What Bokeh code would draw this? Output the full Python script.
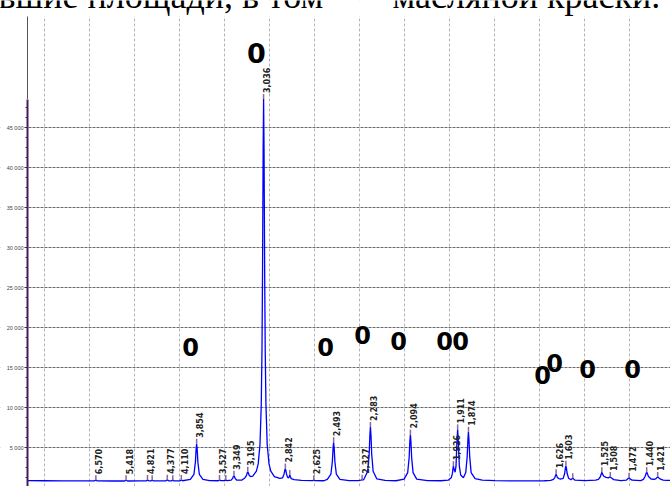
from math import asin, degrees, pi

from bokeh.core.properties import value
from bokeh.embed import file_html
from bokeh.models import FixedTicker, Grid, LinearAxis, Range1d
from bokeh.plotting import figure
from bokeh.resources import INLINE

# ---------------- data ----------------
WAVELENGTH = 1.7902  # Co K-alpha, Angstrom

# labelled reflections: d-spacing (A) and height of the curve at the peak (counts)
d_labels = [6.570, 5.418, 4.821, 4.377, 4.110, 3.854, 3.527, 3.349, 3.195, 3.036,
            2.842, 2.625, 2.493, 2.327, 2.283, 2.094, 1.926, 1.911, 1.874, 1.626,
            1.603, 1.525, 1.508, 1.472, 1.440, 1.421]
label_tops = [950, 950, 980, 1000, 980, 5500, 980, 1500, 2000, 48600,
              2400, 950, 5700, 1000, 7600, 6650, 2700, 7300, 7000, 1700,
              2750, 1950, 1350, 1250, 1950, 1350]

# unlabelled peak marks (2theta, counts)
mark_2theta = [21.92, 24.21, 30.10, 37.21, 68.65]
mark_tops = [950, 950, 960, 1600, 1200]

# measured pattern (2theta, counts)
curve_points = [
    (8.07, 900), (10.0, 880), (12.0, 870), (14.0, 860), (15.50, 860), (15.66, 950),
    (15.82, 860), (17.5, 850), (18.86, 850), (19.02, 950), (19.18, 850), (20.5, 860),
    (21.26, 860), (21.40, 980), (21.54, 870), (21.78, 860), (21.92, 950), (22.06, 860),
    (23.0, 860), (23.46, 870), (23.60, 1000), (23.74, 880), (24.07, 870), (24.21, 950),
    (24.35, 870), (25.02, 870), (25.16, 980), (25.30, 880), (26.16, 1040), (26.56, 1690),
    (26.72, 3175), (26.80, 4800), (26.86, 5500), (26.92, 4800), (27.00, 3175), (27.16, 1690),
    (27.56, 1040), (28.3, 900), (29.26, 880), (29.40, 980), (29.54, 890), (29.96, 890),
    (30.10, 960), (30.24, 900), (30.70, 967), (30.86, 1175), (30.94, 1400), (31.00, 1500),
    (31.06, 1400), (31.14, 1175), (31.30, 970), (31.9, 960), (32.24, 1270), (32.40, 1555),
    (32.48, 1866), (32.54, 2000), (32.60, 1880), (32.68, 1600), (32.84, 1390), (33.10, 1470),
    (33.50, 2080), (33.70, 2990), (33.90, 5410), (34.04, 10400), (34.12, 17220), (34.18, 26630),
    (34.22, 35480), (34.25, 42440), (34.30, 48600), (34.35, 42440), (34.38, 35480), (34.42, 26630),
    (34.48, 17220), (34.56, 10400), (34.70, 5410), (34.90, 2990), (35.10, 2080), (35.50, 1400),
    (36.10, 1170), (36.41, 1244), (36.57, 1695), (36.65, 2190), (36.71, 2400), (36.77, 2190),
    (36.85, 1695), (36.97, 1300), (37.10, 1250), (37.16, 1450), (37.21, 1600), (37.27, 1420),
    (37.36, 1150), (37.70, 1020), (38.5, 930), (39.74, 890), (39.88, 950), (40.02, 890),
    (41.0, 880), (41.38, 1044), (41.78, 1723), (41.94, 3275), (42.02, 4973), (42.08, 5700),
    (42.14, 4973), (42.22, 3275), (42.38, 1723), (42.78, 1044), (43.8, 890), (44.8, 900),
    (45.10, 950), (45.24, 1000), (45.36, 980), (45.47, 1120), (45.87, 2065), (46.03, 4225),
    (46.11, 6588), (46.17, 7600), (46.23, 6588), (46.31, 4225), (46.47, 2065), (46.87, 1120),
    (47.8, 930), (49.0, 880), (49.91, 1082), (50.31, 1894), (50.47, 3750), (50.55, 5780),
    (50.61, 6650), (50.67, 5780), (50.75, 3750), (50.91, 1894), (51.31, 1082), (52.5, 900),
    (54.0, 880), (54.8, 950), (55.15, 1250), (55.28, 1800), (55.34, 2400), (55.39, 2700),
    (55.46, 2350), (55.58, 1950), (55.68, 2700), (55.77, 5400), (55.86, 7300), (55.95, 5400),
    (56.05, 2700), (56.20, 1600), (56.50, 1250), (56.76, 1900), (56.92, 3900), (57.00, 6000),
    (57.06, 7000), (57.12, 6000), (57.20, 3900), (57.36, 1900), (57.80, 1150), (58.6, 950),
    (60.0, 890), (62.0, 870), (64.0, 860), (65.5, 880), (66.2, 930), (66.50, 1050),
    (66.66, 1280), (66.74, 1550), (66.80, 1700), (66.86, 1550), (66.94, 1300), (67.10, 1150),
    (67.35, 1100), (67.59, 1180), (67.75, 1780), (67.83, 2420), (67.89, 2750), (67.95, 2420),
    (68.03, 1780), (68.19, 1200), (68.45, 1000), (68.58, 1150), (68.65, 1200), (68.72, 1120),
    (68.90, 950), (70.0, 890), (71.2, 950), (71.50, 1050), (71.70, 1350), (71.80, 1650),
    (71.88, 1950), (71.96, 1700), (72.10, 1450), (72.35, 1300), (72.60, 1250), (72.75, 1330),
    (72.83, 1350), (72.95, 1220), (73.2, 1020), (74.0, 900), (74.60, 950), (74.80, 1150),
    (74.91, 1250), (75.02, 1120), (75.25, 950), (76.2, 900), (76.50, 1050), (76.70, 1450),
    (76.80, 1800), (76.87, 1950), (76.94, 1800), (77.06, 1400), (77.35, 1100), (77.70, 1050),
    (77.90, 1150), (78.00, 1280), (78.09, 1350), (78.20, 1250), (78.40, 1080), (78.70, 960),
    (79.10, 930), (79.51, 920),
]

# hand-drawn phase marks "0" (2theta, counts)
big_mark_2theta = [33.51]
big_mark_counts = [54290]
mark0_2theta = [26.18, 41.18, 45.29, 49.29, 54.40, 56.18, 65.29, 66.62, 70.29, 75.29]
mark0_counts = [17660, 17660, 19160, 18410, 18410, 18410, 14040, 15540, 14790, 14790]

# axis ticks
ytick_values = [5000, 10000, 15000, 20000, 25000, 30000, 35000, 40000, 45000]
ytick_labels = ["5 000", "10 000", "15 000", "20 000", "25 000", "30 000", "35 000", "40 000", "45 000"]
yminor_values = [1250 * i for i in range(1, 39)]
xgrid_values = [10, 15, 20, 25, 30, 35, 40, 45, 50, 55, 60, 65, 70, 75]

# surrounding document text (cut off at the top of the scan)
doc_text_left = "вшие площади, в том"
doc_text_right = "масляной краски."

# ---------------- derived ----------------
curve_2theta = [pt[0] for pt in curve_points]
curve_counts = [pt[1] for pt in curve_points]
label_2theta = [2 * degrees(asin(WAVELENGTH / (2 * d))) for d in d_labels]
label_text = [f"{d:.3f}".replace(".", ",") for d in d_labels]

# ---------------- view ----------------
X_START, X_END = 5.0667, 79.511
Y_START, Y_END = 162.5, 60912.5
AXIS_X = 8.067
GRID_TOP = 58912.5
TEXT_Y = 60537.5
AXIS_TOP = max(curve_counts)

p = figure(width=670, height=486, output_backend="svg", toolbar_location=None,
           x_range=Range1d(X_START, X_END), y_range=Range1d(Y_START, Y_END),
           x_axis_location=None, y_axis_location=None,
           min_border_left=0, min_border_right=0, min_border_top=0, min_border_bottom=0)
p.outline_line_color = None
p.background_fill_color = "white"
p.border_fill_color = "white"

p.center = [c for c in p.center if not isinstance(c, Grid)]
xg = Grid(dimension=0, ticker=FixedTicker(ticks=xgrid_values),
          grid_line_color="#b4b4b4", grid_line_dash="3 2", grid_line_width=1)
yg = Grid(dimension=1, ticker=FixedTicker(ticks=ytick_values),
          grid_line_color="#6a6a6a", grid_line_dash="3 1", grid_line_width=1.2)
p.add_layout(xg, "center")
p.add_layout(yg, "center")

yaxis = LinearAxis(fixed_location=AXIS_X,
                   ticker=FixedTicker(ticks=ytick_values, minor_ticks=yminor_values),
                   bounds=(Y_START, AXIS_TOP))
yaxis.major_label_overrides = {v: lab for v, lab in zip(ytick_values, ytick_labels)}
yaxis.axis_line_color = "#4a1a5e"
yaxis.axis_line_width = 2
yaxis.major_tick_in = 0
yaxis.major_tick_out = 3
yaxis.minor_tick_in = 0
yaxis.minor_tick_out = 2
yaxis.major_tick_line_color = "#333333"
yaxis.minor_tick_line_color = "#333333"
yaxis.major_label_text_font = "Liberation Sans"
yaxis.major_label_text_font_size = "5.5px"
yaxis.major_label_text_color = "#444444"
yaxis.major_label_standoff = 1
p.add_layout(yaxis, "left")

# white masks: left of the axis and the strip above the grid
p.quad(left=[X_START, X_START], right=[AXIS_X, X_END], bottom=[Y_START, GRID_TOP],
       top=[Y_END, Y_END], fill_color="white", line_color=None)
p.segment(x0=[AXIS_X], y0=[AXIS_TOP], x1=[AXIS_X], y1=[GRID_TOP],
          line_color="#555555", line_width=1)

# pattern
p.line(curve_2theta, curve_counts, line_color="#0000ff", line_width=1.3)

# peak marks
p.ray(x=label_2theta + mark_2theta, y=label_tops + mark_tops, length=5, length_units="screen",
      angle=pi / 2, line_color="#8a6a9a", line_width=1.5)
p.text(x=label_2theta, y=label_tops, text=label_text, angle=pi / 2,
       x_offset=3, y_offset=-6, text_align="left", text_baseline="alphabetic",
       text_font=value("DejaVu Sans"), text_font_style="bold", text_font_size="8px",
       text_color="#222222")

# phase marks
p.text(x=big_mark_2theta, y=big_mark_counts, text=["0"], text_align="center",
       text_baseline="middle", text_font=value("DejaVu Sans"), text_font_style="bold",
       text_font_size="27px", text_color="black")
p.text(x=mark0_2theta, y=mark0_counts, text=["0"] * len(mark0_2theta), text_align="center",
       text_baseline="middle", text_font=value("DejaVu Sans"), text_font_style="bold",
       text_font_size="24px", text_color="black")

# document text (only the lower part of the line is inside the scan)
p.text(x=[5.289], y=[TEXT_Y], text=[doc_text_left], text_align="left", x_offset=-4,
       y_offset=-8, text_baseline="alphabetic", text_font=value("Liberation Serif"),
       text_font_size="36px", text_color="black")
p.text(x=[48.62], y=[TEXT_Y], text=[doc_text_right], text_align="left",
       y_offset=-8, text_baseline="alphabetic", text_font=value("Liberation Serif"),
       text_font_size="36px", text_color="black")

open("out.html", "w").write(file_html(p, INLINE))
